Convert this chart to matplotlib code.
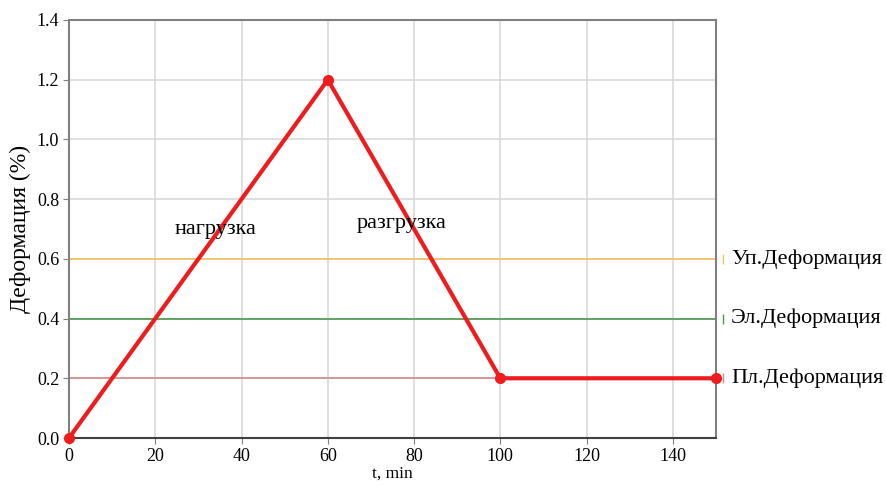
import matplotlib
matplotlib.use("Agg")
import matplotlib.pyplot as plt

t = [0, 60, 100, 150]
strain = [0.0, 1.2, 0.2, 0.2]
levels = [0.6, 0.4, 0.2]
level_labels = ["Уп.Деформация", "Эл.Деформация", "Пл.Деформация"]
level_colors = ["#f7c060", "#4a9a4a", "#d48a8a"]
xticks = [0, 20, 40, 60, 80, 100, 120, 140]
yticks = [0.0, 0.2, 0.4, 0.6, 0.8, 1.0, 1.2, 1.4]

plt.rcParams['font.family'] = ['Liberation Serif', 'DejaVu Serif']

fig = plt.figure(figsize=(8.86, 4.86), dpi=100)
ax = fig.add_axes([69/886, 48/486, (716-69)/886, (438-20)/486])

ax.set_xlim(0, 150)
ax.set_ylim(0, 1.4)
ax.set_xticks(xticks)
ax.set_yticks(yticks)
ax.set_yticklabels([f"{v:.1f}" for v in yticks])
ax.grid(True, color="#d9d9d9", linewidth=1.2)
ax.set_axisbelow(True)

for lv, lab, c in zip(levels, level_labels, level_colors):
    ax.axhline(lv, color=c, linewidth=1.2, zorder=2)
    ax.plot([1.011], [lv], marker="|", color=c, markersize=7, transform=ax.get_yaxis_transform(), clip_on=False)
    ax.text(1.023, lv, lab, transform=ax.get_yaxis_transform(), va="center", ha="left", fontsize=16)

ax.plot(t, strain, color="#ee1c1c", linewidth=3, marker="o", markersize=7, zorder=5, clip_on=False)

ax.text(24.5, 0.70, "нагрузка", fontsize=16, va="center", zorder=6)
ax.text(66.8, 0.72, "разгрузка", fontsize=16, va="center", zorder=6)

ax.set_xlabel("t, min", fontsize=12.5, labelpad=1)
ax.set_ylabel("Деформация (%)", fontsize=17, labelpad=4)

for s in ["left", "top", "right"]:
    ax.spines[s].set_color("#808080")
    ax.spines[s].set_linewidth(1.5)
ax.spines["bottom"].set_color("#404040")
ax.spines["bottom"].set_linewidth(1.5)
ax.tick_params(axis="both", labelsize=13, color="#808080", length=4)
ax.tick_params(axis="x", pad=3)
ax.tick_params(axis="y", pad=3)

fig.savefig("out.png", dpi=100)
